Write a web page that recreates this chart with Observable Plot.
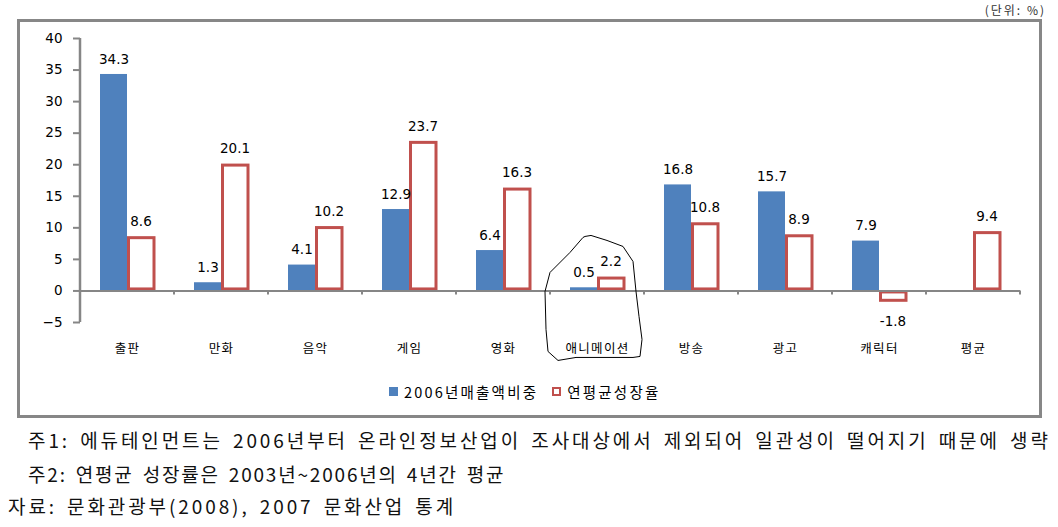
<!DOCTYPE html>
<html>
<head>
<meta charset="utf-8">
<script src="https://cdn.jsdelivr.net/npm/d3@7"></script>
<script src="https://cdn.jsdelivr.net/npm/@observablehq/plot@0.6"></script>
<style>
  html, body { margin: 0; padding: 0; background: #fff; }
  #wrap { position: relative; width: 1058px; height: 527px; overflow: hidden; font-family: "Noto Sans CJK KR", sans-serif; }
  #box { position: absolute; left: 17px; top: 19px; width: 1025px; height: 399px; border: 3px solid #878787; box-sizing: border-box; }
  #chart { position: absolute; left: 0; top: 0; }
  #unit { position: absolute; right: 12px; top: 1px; font-size: 12px; line-height: normal; color: #333; letter-spacing: 2px; }
  #legend { position: absolute; top: 381px; left: 389px; display: flex; align-items: center; font-size: 14.5px; letter-spacing: 2.2px; color: #000; }
  .sw { display: inline-block; width: 9px; height: 9px; margin-right: 6px; box-sizing: border-box; }
  .item { display: flex; align-items: center; margin-right: 14px; }
  .note { position: absolute; font-size: 19px; line-height: 24px; color: #111; white-space: nowrap; word-spacing: 3px; }
</style>
</head>
<body>
<div id="wrap">
  <div id="unit">(단위: %)</div>
  <div id="box"></div>
  <div id="chart"></div>
  <div id="legend"></div>
  <div id="notes"></div>
</div>
<script>
const categories = ["출판", "만화", "음악", "게임", "영화", "애니메이션", "방송", "광고", "캐릭터", "평균"];
const salesShare2006 = [34.3, 1.3, 4.1, 12.9, 6.4, 0.5, 16.8, 15.7, 7.9, null];
const annualGrowthRate = [8.6, 20.1, 10.2, 23.7, 16.3, 2.2, 10.8, 8.9, -1.8, 9.4];
const seriesNames = ["2006년매출액비중", "연평균성장율"];
const seriesColors = ["#4F81BD", "#C0504D"];
const yTicks = [-5, 0, 5, 10, 15, 20, 25, 30, 35, 40];
const footnotes = [
  "주1: 에듀테인먼트는 2006년부터 온라인정보산업이 조사대상에서 제외되어 일관성이 떨어지기 때문에 생략",
  "주2: 연평균 성장률은 2003년~2006년의 4년간 평균",
  "자료: 문화관광부(2008), 2007 문화산업 통계"
];
// hand-drawn outline around 애니메이션 (pixel offsets from band centre / zero line)
const doodleOffsets = [[-12,-54],[-6,-55],[10,-50],[26,-44],[36,-29],[39,1],[42,26],[45,49],[43,66],[36,67],[-21,67],[-39,70],[-49,61],[-51,39],[-52,1],[-47,-18],[-27,-38],[-14,-53],[-12,-54]];

const data = [];
categories.forEach((c, i) => {
  if (salesShare2006[i] != null) data.push({cat: c, series: seriesNames[0], value: salesShare2006[i]});
  if (annualGrowthRate[i] != null) data.push({cat: c, series: seriesNames[1], value: annualGrowthRate[i]});
});
const fmt = d => d.value.toFixed(1);

const chart = Plot.plot({
  width: 1058,
  height: 372,
  marginLeft: 80,
  marginRight: 38,
  marginTop: 38,
  marginBottom: 50,
  style: {fontFamily: "DejaVu Sans, sans-serif", fontSize: "13px", color: "#000", background: "transparent", overflow: "visible"},
  fx: {domain: categories, padding: 0, label: null},
  x: {domain: seriesNames, paddingInner: 0, paddingOuter: 0.74, axis: null},
  y: {domain: [-5, 40], label: null},
  marks: [
    Plot.axisY({ticks: yTicks, tickSize: 7, tickPadding: 11, stroke: "#868686", strokeWidth: 2, fill: "#000", fontSize: 13.5, label: null}),
    Plot.axisFx({anchor: "bottom", tickSize: 0, tickPadding: 22, fontSize: 12.5, fontFamily: "Noto Sans CJK KR", fill: "#000", label: null}),
    Plot.barY(data.filter(d => d.series === seriesNames[0]), {fx: "cat", x: "series", y: "value", fill: seriesColors[0]}),
    Plot.barY(data.filter(d => d.series === seriesNames[1]), {fx: "cat", x: "series", y: "value", fill: "#fff", stroke: seriesColors[1], strokeWidth: 3, insetTop: 1.5, insetBottom: 1.5, insetLeft: 1.5, insetRight: 0}),
    Plot.ruleY([0], {stroke: "#868686", strokeWidth: 2}),
    Plot.text(data.filter(d => d.value >= 0), {fx: "cat", x: "series", y: "value", text: fmt, dy: -15, fontSize: 13.5, fill: "#000"}),
    Plot.text(data.filter(d => d.value < 0), {fx: "cat", x: "series", y: "value", text: fmt, dy: 19, fontSize: 13.5, fill: "#000"})
  ]
});
document.getElementById("chart").appendChild(chart);

// axis line, category boundary ticks and the hand-drawn outline, all from the scales
const ys = chart.scale("y"), fxs = chart.scale("fx");
const svg = d3.select(chart);
const y0 = ys.apply(0);
const g = svg.append("g");
g.append("line").attr("x1", 80).attr("x2", 80).attr("y1", ys.apply(40)).attr("y2", ys.apply(-5))
  .attr("stroke", "#868686").attr("stroke-width", 2.5);
const bounds = categories.slice(1).map(c => fxs.apply(c));
bounds.push(fxs.apply(categories[categories.length - 1]) + fxs.bandwidth);
bounds.forEach(x => g.append("line").attr("x1", x).attr("x2", x).attr("y1", y0).attr("y2", y0 + 4)
  .attr("stroke", "#868686").attr("stroke-width", 2));
const cx = fxs.apply("애니메이션") + fxs.bandwidth / 2;
g.append("path").attr("d", d3.line()(doodleOffsets.map(([dx, dy]) => [cx + dx, y0 + dy])))
  .attr("fill", "none").attr("stroke", "#000").attr("stroke-width", 1);
svg.selectAll("g[aria-label='fx-axis tick label'] text").attr("letter-spacing", "1.3");

// legend
const legend = document.getElementById("legend");
seriesNames.forEach((name, i) => {
  const item = document.createElement("div");
  item.className = "item";
  const sw = document.createElement("span");
  sw.className = "sw";
  if (i === 0) sw.style.background = seriesColors[0];
  else { sw.style.background = "#fff"; sw.style.border = "2.5px solid " + seriesColors[1]; }
  item.appendChild(sw);
  item.appendChild(document.createTextNode(name));
  legend.appendChild(item);
});

// footnotes
const notePos = [[28, 428, 2.9], [28, 462, 1.8], [8, 494, 2.9]];
const notes = document.getElementById("notes");
footnotes.forEach((t, i) => {
  const d = document.createElement("div");
  d.className = "note";
  d.style.left = notePos[i][0] + "px";
  d.style.top = notePos[i][1] + "px";
  d.style.letterSpacing = notePos[i][2] + "px";
  d.textContent = t;
  notes.appendChild(d);
});
</script>
</body>
</html>
